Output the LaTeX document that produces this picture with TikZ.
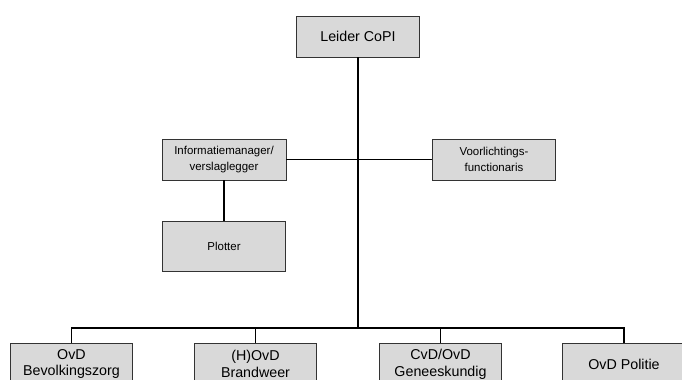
\documentclass[tikz,border=0pt]{standalone}
\usepackage{fontspec}
\setmainfont{Liberation Sans}
\usetikzlibrary{positioning}
\tikzset{
	box/.style={draw=black!80, fill=black!15, line width=0.6pt, inner sep=0pt, align=center, minimum width=92pt, minimum height=30.75pt},
	bigtxt/.style={font=\fontsize{10.7}{12.5}\selectfont},
	smalltxt/.style={font=\fontsize{8.6}{12.5}\selectfont},
	lowbox/.style={box, bigtxt, minimum height=31.5pt},
	link/.style={line width=1.3pt, black}
}

\begin{document}
\begin{tikzpicture}[x=0.75pt,y=-0.75pt]
	\useasboundingbox (0,0) rectangle (682,379);
	\clip (0,0) rectangle (682,379); % onderste rij valt deels buiten beeld
	
	%Top
	\node[box, bigtxt] (leider) at (358,36.5) {Leider CoPI};
	
	%Staf
	\node[box, smalltxt, minimum width=93pt] (info) at (224,159.5) {Informatiemanager/\\verslaglegger};
	\node[box, smalltxt] (voorl) at (494,159.5) {Voorlichtings-\\functionaris};
	\node[box, smalltxt, minimum height=37.5pt] (plotter) at (224,246) {Plotter};
	
	%Onderste rij
	\node[lowbox] (bevolking) at (71.5,364) {OvD\\Bevolkingszorg};
	\node[lowbox] (brandweer) at (255.5,364) {(H)OvD\\Brandweer};
	\node[lowbox] (geneesk) at (440.5,364) {CvD/OvD\\Geneeskundig};
	\node[lowbox] (politie) at (624,364) {OvD Politie};
	
	\coordinate (bus) at (358,328);
	
	%Lijnen
	\draw[link] (leider.south) -- (leider.south |- bus);
	\draw[link] (info.east) -- (voorl.west);
	\draw[link] (info.south) -- (plotter.north);
	\draw[link] (bevolking.north) -- (bevolking.north |- bus) -- (politie.north |- bus) -- (politie.north);
	\draw[link] (brandweer.north) -- (brandweer.north |- bus);
	\draw[link] (geneesk.north) -- (geneesk.north |- bus);
	
\end{tikzpicture}
\end{document}
